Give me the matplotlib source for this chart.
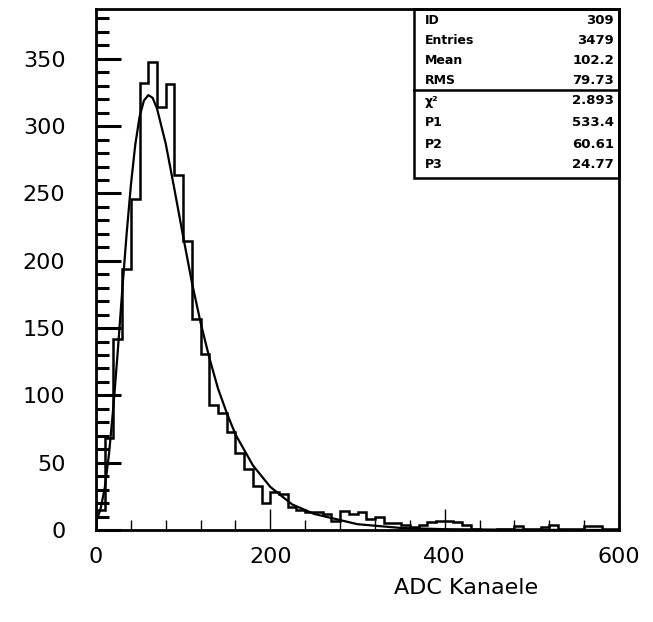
import matplotlib
matplotlib.use("Agg")
import matplotlib.pyplot as plt
import numpy as np

# histogram: 60 bins of width 10 from 0 to 600 (counts)
bin_width = 10
counts = [15, 68, 142, 194, 246, 332, 348, 314, 331, 264,
          215, 157, 131, 93, 87, 73, 57, 45, 33, 20,
          28, 27, 17, 15, 13, 13, 12, 7, 14, 12,
          13, 8, 10, 5, 5, 4, 2, 4, 6, 7,
          7, 6, 4, 1, 0, 0, 1, 1, 3, 1,
          1, 2, 4, 1, 1, 1, 3, 3, 1, 1]

# fitted curve, points
fit_x = [0, 5, 10, 15, 20, 25, 30, 35, 40, 45, 50, 55, 60, 65, 70, 80, 90, 100,
         110, 120, 130, 140, 150, 160, 180, 200, 225, 250, 300, 350, 400, 500, 600]
fit_y = [6, 15, 31, 57, 92, 133, 177, 219, 256, 286, 307, 319, 323, 321, 313, 287,
         253, 218, 184, 154, 128, 105, 87, 71, 48, 32, 19, 12, 4.3, 1.5, 0.6, 0.1, 0]

stat_names = ["ID", "Entries", "Mean", "RMS"]
stat_vals = ["309", "3479", "102.2", "79.73"]
fit_names = ["χ²", "P1", "P2", "P3"]
fit_vals = ["2.893", "533.4", "60.61", "24.77"]

fig = plt.figure(figsize=(6.53, 6.22), dpi=100)
ax = fig.add_axes([96/653, 1 - 530/622, 523/653, 521/622])

edges = np.arange(0, bin_width * (len(counts) + 1), bin_width)
ax.stairs(counts, edges, color="k", lw=1.8)
ax.plot(fit_x, fit_y, color="k", lw=1.6)

ax.set_xlim(0, 600)
ax.set_ylim(0, 387)

ax.set_xticks([0, 200, 400, 600])
ax.set_xticks(np.arange(0, 601, 40), minor=True)
ax.set_yticks(np.arange(0, 351, 50))
ax.set_yticks(np.arange(0, 381, 10), minor=True)

ax.tick_params(axis="y", which="major", direction="in", length=18, width=2.2,
               pad=22, labelsize=16)
ax.tick_params(axis="y", which="minor", direction="in", length=9, width=2.2)
ax.tick_params(axis="x", which="major", direction="in", length=15, width=1.0,
               pad=12, labelsize=16)
ax.tick_params(axis="x", which="minor", direction="in", length=7, width=1.0)
for s in ax.spines.values():
    s.set_linewidth(2)

fig.text(466/653, 1 - 588/622, "ADC Kanaele", ha="center", va="center", fontsize=16)

# statistics box
bx0 = (414 - 96) / 523
by0 = (530 - 178) / 521
ax.add_patch(plt.Rectangle((bx0, by0), 1 - bx0, 1 - by0, transform=ax.transAxes,
                           fill=False, lw=1.8, color="k", clip_on=False))
ydiv = (530 - 90) / 521
ax.plot([bx0, 1], [ydiv, ydiv], transform=ax.transAxes, color="k", lw=1.8)

row_px = [20, 40, 61, 81, 101, 123, 144, 165]
names = stat_names + fit_names
vals = stat_vals + fit_vals
for name, val, yp in zip(names, vals, row_px):
    yy = (530 - yp) / 521
    ax.text((425 - 96) / 523, yy, name, transform=ax.transAxes, ha="left",
            va="center", fontsize=9, fontweight="bold")
    ax.text((614 - 96) / 523, yy, val, transform=ax.transAxes, ha="right",
            va="center", fontsize=9.5, fontweight="bold")

fig.savefig("out.png", dpi=100)
